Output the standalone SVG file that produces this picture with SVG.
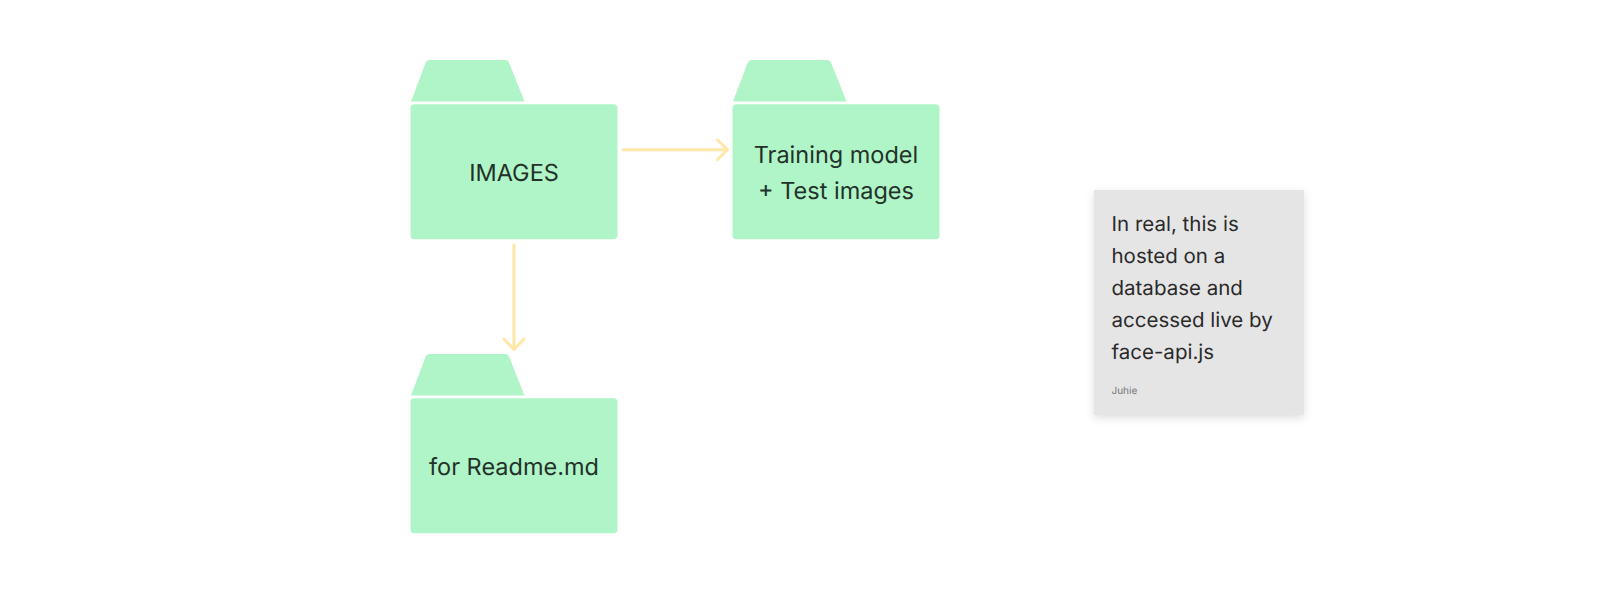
<svg xmlns="http://www.w3.org/2000/svg" width="1602" height="594" viewBox="0 0 1602 594">
<defs>
<style>
text{text-rendering:geometricPrecision}
.tab,.body{fill:#aff5c7}
.lbl{font-family:Inter,"Liberation Sans",sans-serif;font-size:23.5px;fill:#24312a;text-anchor:middle}
.note{font-family:Inter,"Liberation Sans",sans-serif;font-size:20.5px;fill:#2a2a2a}
.wire{fill:none;stroke:#ffe7a8;stroke-width:3;stroke-linecap:round;stroke-linejoin:round}
</style>
<filter id="sh" x="-15%" y="-15%" width="130%" height="130%"><feDropShadow dx="0" dy="3" stdDeviation="4" flood-color="#000" flood-opacity="0.13"/></filter>
<g id="folder">
<path class="tab" d="M411 101.500L425.500 63Q426.700 60 429.700 60L505.500 60Q508 60 509 62.500L524.500 101.500Z"/>
<rect class="body" x="410.500" y="104.300" width="207" height="135" rx="4"/>
</g>
</defs>
<rect width="1602" height="594" fill="#fff"/>
<g id="node-images"><use href="#folder"/><text class="lbl" x="514" y="181">IMAGES</text></g>
<g id="node-training"><use href="#folder" x="322"/><text class="lbl" x="836" y="163">Training model</text><text class="lbl" x="836" y="199">+ Test images</text></g>
<g id="node-readme"><use href="#folder" y="294"/><text class="lbl" x="514" y="475">for Readme.md</text></g>
<g id="connectors">
<path class="wire" d="M623 149.700H727M717.500 140L727.500 149.700L717.500 159.500"/>
<path class="wire" d="M514 245V349M504 339L514 349.500L524 339"/>
</g>
<g id="note">
<rect x="1094" y="190" width="210" height="225" fill="#e5e5e5" filter="url(#sh)"/>
<text class="note" x="1111.500" y="231">In real, this is</text>
<text class="note" x="1111.500" y="263">hosted on a</text>
<text class="note" x="1111.500" y="295">database and</text>
<text class="note" x="1111.500" y="327">accessed live by</text>
<text class="note" x="1111.500" y="359">face-api.js</text>
<text x="1111.500" y="394" font-family="Inter,'Liberation Sans',sans-serif" font-size="10px" fill="#777">Juhie</text>
</g>
</svg>
